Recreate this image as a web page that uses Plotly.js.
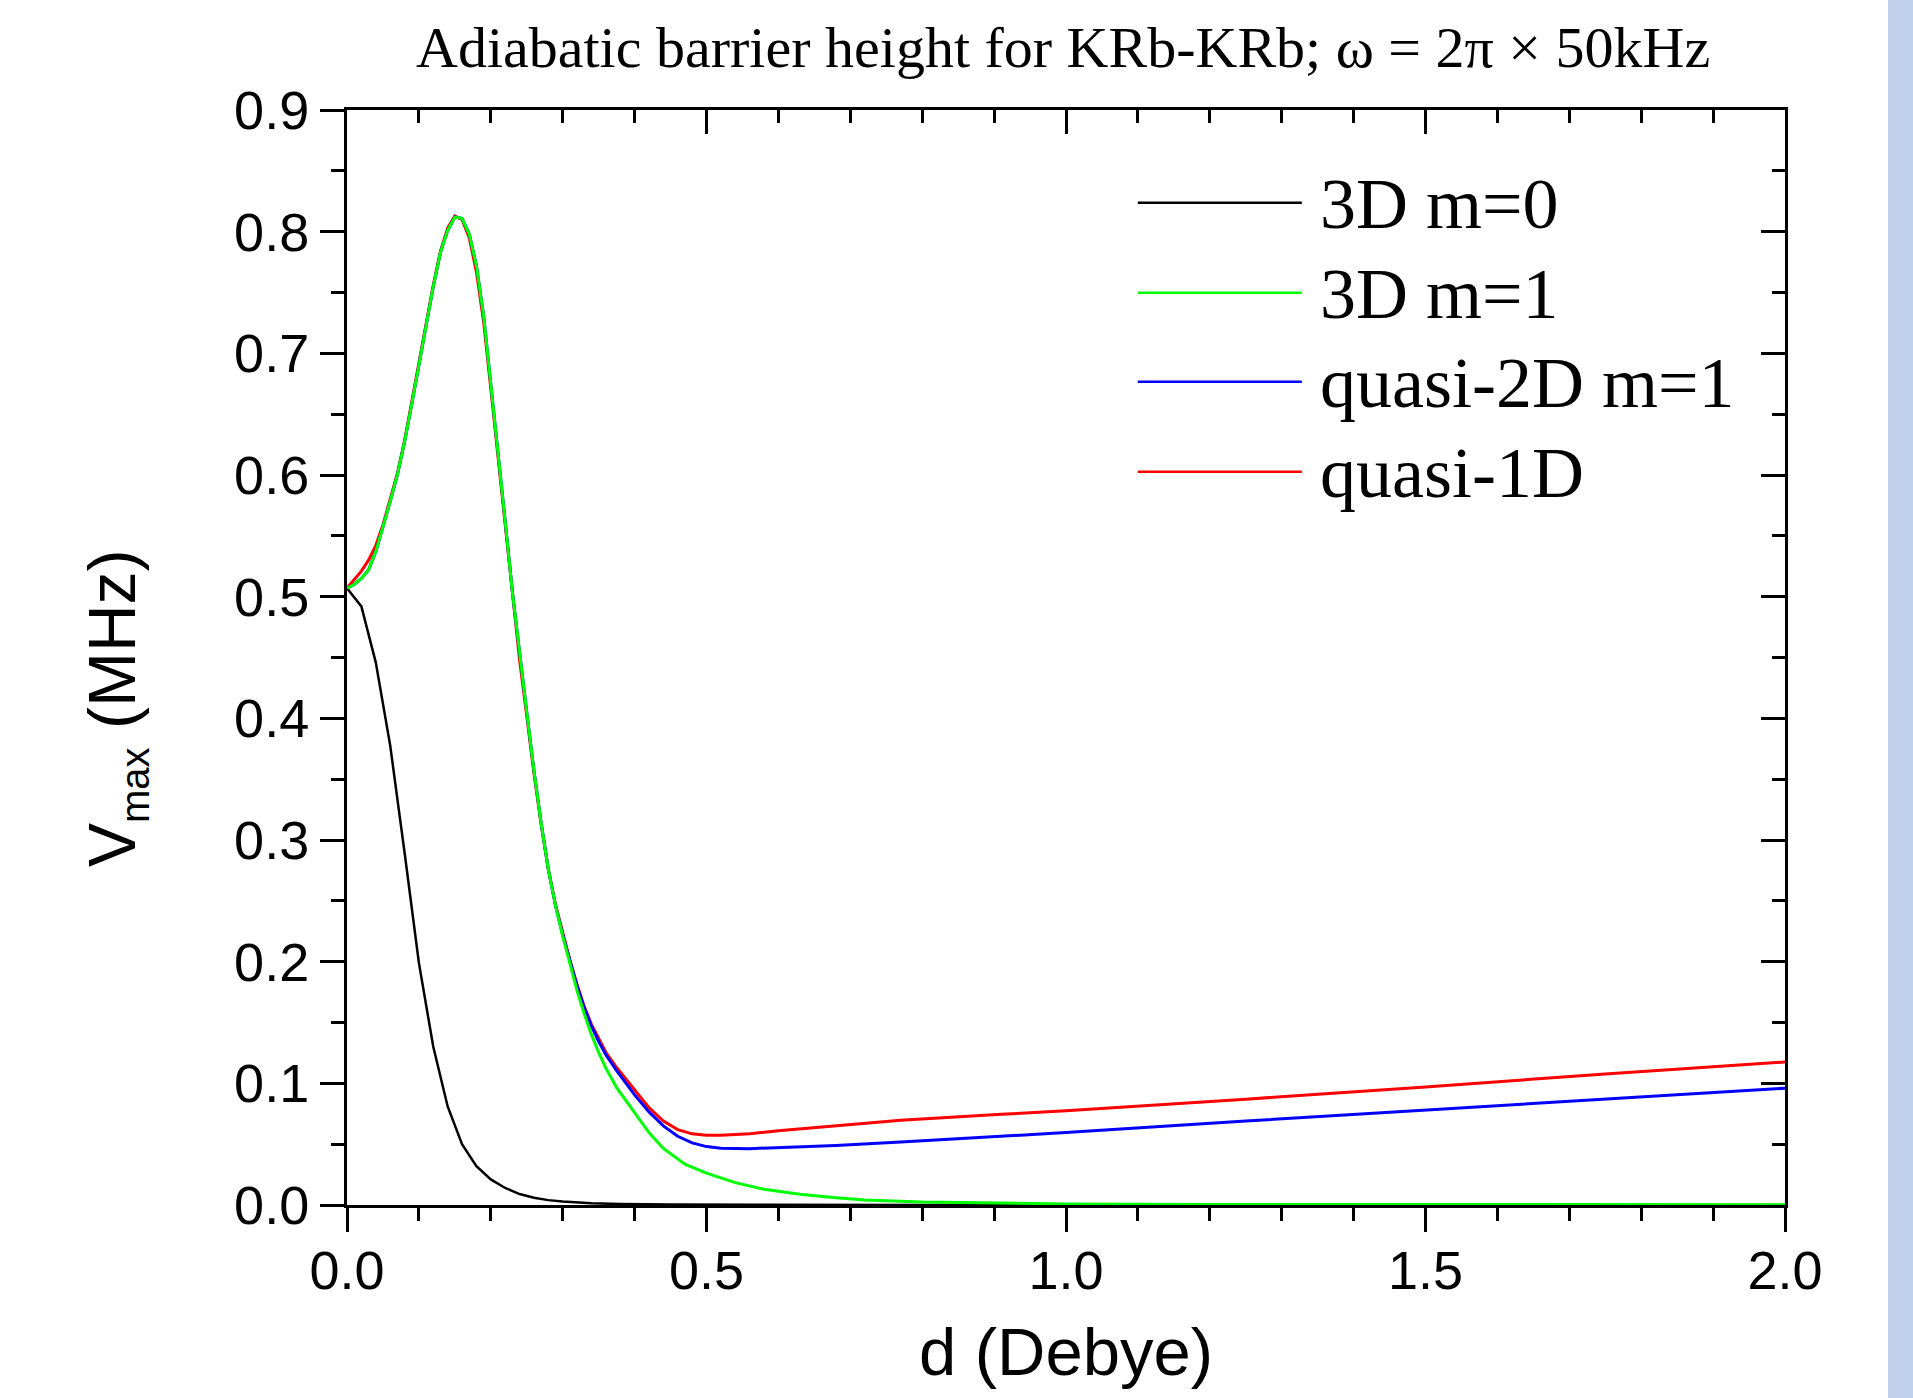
<!DOCTYPE html>
<html>
<head>
<meta charset="utf-8">
<script src="https://cdn.plot.ly/plotly-3.0.1.min.js"></script>
<style>html,body{margin:0;padding:0;background:#fff;}#chart{width:1913px;height:1398px;}</style>
</head>
<body>
<div id="chart"></div>
<script>
// ---- data ----
const seriesNames = ["3D m=0", "3D m=1", "quasi-2D m=1", "quasi-1D"];

const d_m0 = [0, 0.02, 0.04, 0.06, 0.08, 0.10, 0.12, 0.14, 0.16, 0.18, 0.20, 0.22, 0.24, 0.26, 0.28, 0.30, 0.34, 0.38, 0.45, 0.6, 0.8, 1.0, 1.5, 2.0];
const v_m0 = [0.507, 0.492, 0.446, 0.378, 0.290, 0.199, 0.130, 0.081, 0.050, 0.032, 0.021, 0.014, 0.009, 0.006, 0.004, 0.0028, 0.0015, 0.0008, 0.0004, 0.0001, 0.00005, 0, 0, 0];

const d_m1 = [0, 0.01, 0.02, 0.03, 0.04, 0.05, 0.06, 0.07, 0.08, 0.09, 0.10, 0.11, 0.12, 0.13, 0.14, 0.15, 0.16, 0.17, 0.18, 0.19, 0.20, 0.21, 0.22, 0.23, 0.24, 0.25, 0.26, 0.27, 0.28, 0.29, 0.30, 0.31, 0.32, 0.33, 0.34, 0.35, 0.36, 0.375, 0.40, 0.42, 0.44, 0.47, 0.50, 0.54, 0.58, 0.63, 0.68, 0.72, 0.80, 0.90, 1.0, 1.2, 1.5, 2.0];
const v_m1 = [0.507, 0.510, 0.515, 0.522, 0.537, 0.557, 0.578, 0.600, 0.627, 0.658, 0.690, 0.723, 0.755, 0.783, 0.801, 0.812, 0.811, 0.798, 0.772, 0.731, 0.676, 0.619, 0.562, 0.504, 0.452, 0.405, 0.357, 0.314, 0.276, 0.246, 0.221, 0.198, 0.176, 0.157, 0.140, 0.1255, 0.1125, 0.0965, 0.0755, 0.0595, 0.0465, 0.0335, 0.0262, 0.0184, 0.0130, 0.0088, 0.0060, 0.0042, 0.0025, 0.0014, 0.0009, 0.0005, 0.0003, 0.0002];

const d_q2d = [0, 0.01, 0.02, 0.03, 0.04, 0.05, 0.06, 0.07, 0.08, 0.09, 0.10, 0.11, 0.12, 0.13, 0.14, 0.15, 0.16, 0.17, 0.18, 0.19, 0.20, 0.21, 0.22, 0.23, 0.24, 0.25, 0.26, 0.27, 0.28, 0.29, 0.30, 0.31, 0.32, 0.33, 0.34, 0.35, 0.36, 0.375, 0.40, 0.42, 0.44, 0.46, 0.48, 0.50, 0.52, 0.56, 0.60, 0.68, 0.77, 0.91, 1.0, 1.25, 1.5, 1.75, 2.0];
const v_q2d = [0.507, 0.510, 0.515, 0.522, 0.537, 0.557, 0.578, 0.600, 0.627, 0.658, 0.690, 0.723, 0.755, 0.783, 0.801, 0.812, 0.811, 0.798, 0.772, 0.731, 0.676, 0.619, 0.562, 0.504, 0.452, 0.405, 0.357, 0.314, 0.276, 0.246, 0.222, 0.200, 0.180, 0.162, 0.147, 0.1345, 0.1235, 0.1105, 0.0905, 0.0765, 0.065, 0.0565, 0.051, 0.048, 0.0467, 0.0463, 0.047, 0.049, 0.0518, 0.0564, 0.0595, 0.069, 0.078, 0.087, 0.096];

const d_q1d = [0, 0.01, 0.02, 0.03, 0.04, 0.05, 0.06, 0.07, 0.08, 0.09, 0.10, 0.11, 0.12, 0.13, 0.14, 0.15, 0.16, 0.17, 0.18, 0.19, 0.20, 0.21, 0.22, 0.23, 0.24, 0.25, 0.26, 0.27, 0.28, 0.29, 0.30, 0.31, 0.32, 0.33, 0.34, 0.35, 0.36, 0.375, 0.40, 0.42, 0.44, 0.46, 0.48, 0.50, 0.52, 0.56, 0.60, 0.68, 0.77, 0.91, 1.0, 1.25, 1.5, 1.75, 2.0];
const v_q1d = [0.507, 0.514, 0.521, 0.530, 0.542, 0.559, 0.579, 0.601, 0.628, 0.659, 0.691, 0.724, 0.756, 0.784, 0.803, 0.813, 0.810, 0.795, 0.767, 0.726, 0.671, 0.614, 0.557, 0.500, 0.448, 0.402, 0.355, 0.313, 0.276, 0.247, 0.223, 0.201, 0.181, 0.163, 0.1485, 0.1365, 0.1255, 0.113, 0.0945, 0.080, 0.069, 0.062, 0.0585, 0.0573, 0.0573, 0.0585, 0.061, 0.065, 0.0696, 0.0745, 0.0775, 0.087, 0.097, 0.1077, 0.1175];

const xTickVals = [0.0, 0.5, 1.0, 1.5, 2.0];
const yTickVals = [0.0, 0.1, 0.2, 0.3, 0.4, 0.5, 0.6, 0.7, 0.8, 0.9];

const titleText = 'Adiabatic barrier height for KRb-KRb; ω = 2π × 50kHz';
const xTitleText = 'd (Debye)';
const yTitleText = 'V<sub><span style="font-size:40px">max</span></sub> (MHz)';

const colors = ["#000000", "#00ff00", "#0000ff", "#ff0000"];
const widths = [2.5, 3, 3, 3];

// ---- traces ----
const xs = [d_m0, d_m1, d_q2d, d_q1d];
const ys = [v_m0, v_m1, v_q2d, v_q1d];
const drawOrder = [0, 3, 2, 1]; // green drawn last (on top at the peak)
const traces = drawOrder.map(i => ({
  x: xs[i], y: ys[i], type: 'scatter', mode: 'lines', name: seriesNames[i],
  line: {color: colors[i], width: widths[i]}, showlegend: false, hoverinfo: 'skip'
}));
// empty helper trace so the mirrored top/right axes are drawn
traces.push({x: [], y: [], xaxis: 'x2', yaxis: 'y2', type: 'scatter', mode: 'lines', showlegend: false, hoverinfo: 'skip'});

const tickFont = {family: 'Liberation Sans, Arial, sans-serif', size: 54, color: '#000'};
const axisCommon = {
  showline: true, linecolor: '#000', linewidth: 3, showgrid: false, zeroline: false,
  tickcolor: '#000', tickwidth: 3, ticklen: 24
};

// ---- manual legend (long sample lines like the reference) ----
const legendRowsY = [0.9153, 0.8331, 0.7518, 0.6696];
const shapes = [
  {type: 'rect', xref: 'paper', yref: 'paper', x0: 1.0717, x1: 1.12, y0: -0.3, y1: 1.2,
   fillcolor: '#bfd0ea', line: {width: 0}, layer: 'below'}
];
const annotations = [];
legendRowsY.forEach((yy, i) => {
  shapes.push({type: 'line', xref: 'paper', yref: 'paper', x0: 0.5499, x1: 0.6640, y0: yy, y1: yy,
               line: {color: colors[i], width: 2.5}});
  annotations.push({xref: 'paper', yref: 'paper', x: 0.6751, y: yy - 0.001, xanchor: 'left', yanchor: 'middle',
                    text: seriesNames[i], showarrow: false,
                    font: {family: 'Liberation Serif, Times New Roman, serif', size: 72, color: '#000'}});
});
// y-axis title (placed as rotated text to match the reference offset)
annotations.push({xref: 'paper', yref: 'paper', x: -0.161, y: 0.4543, xanchor: 'center', yanchor: 'middle',
                  textangle: -90, text: yTitleText, showarrow: false,
                  font: {family: 'Liberation Sans, Arial, sans-serif', size: 66, color: '#000'}});

const layout = {
  width: 1913, height: 1398,
  paper_bgcolor: '#ffffff', plot_bgcolor: '#ffffff',
  margin: {l: 347, r: 128, t: 110, b: 193, pad: 0},
  showlegend: false,
  title: {
    text: titleText,
    font: {family: 'Liberation Serif, Times New Roman, serif', size: 58, color: '#000'},
    xref: 'paper', x: 0.498, xanchor: 'center',
    yref: 'container', y: 1 - 47 / 1398, yanchor: 'middle'
  },
  xaxis: Object.assign({}, axisCommon, {
    range: [0, 2], tickmode: 'array', tickvals: xTickVals, tickformat: '.1f',
    ticks: 'outside', tickfont: tickFont, ticklabelstandoff: -8,
    minor: {ticks: 'outside', ticklen: 13, tickwidth: 3, tickcolor: '#000', dtick: 0.1, showgrid: false},
    title: {text: xTitleText, font: {family: 'Liberation Sans, Arial, sans-serif', size: 67, color: '#000'}, standoff: 30}
  }),
  yaxis: Object.assign({}, axisCommon, {
    range: [0, 0.9], tickmode: 'array', tickvals: yTickVals, tickformat: '.1f',
    ticks: 'outside', tickfont: tickFont, ticklabelstandoff: 0,
    minor: {ticks: 'outside', ticklen: 13, tickwidth: 3, tickcolor: '#000', dtick: 0.05, showgrid: false}
  }),
  xaxis2: Object.assign({}, axisCommon, {
    range: [0, 2], overlaying: 'x', side: 'top', anchor: 'y2', tickmode: 'array', tickvals: xTickVals,
    ticks: 'inside', showticklabels: false,
    minor: {ticks: 'inside', ticklen: 13, tickwidth: 3, tickcolor: '#000', dtick: 0.1, showgrid: false}
  }),
  yaxis2: Object.assign({}, axisCommon, {
    range: [0, 0.9], overlaying: 'y', side: 'right', anchor: 'x2', tickmode: 'array', tickvals: yTickVals,
    ticks: 'inside', showticklabels: false,
    minor: {ticks: 'inside', ticklen: 13, tickwidth: 3, tickcolor: '#000', dtick: 0.05, showgrid: false}
  }),
  shapes: shapes,
  annotations: annotations
};

Plotly.newPlot('chart', traces, layout, {staticPlot: true, displayModeBar: false});
</script>
</body>
</html>
